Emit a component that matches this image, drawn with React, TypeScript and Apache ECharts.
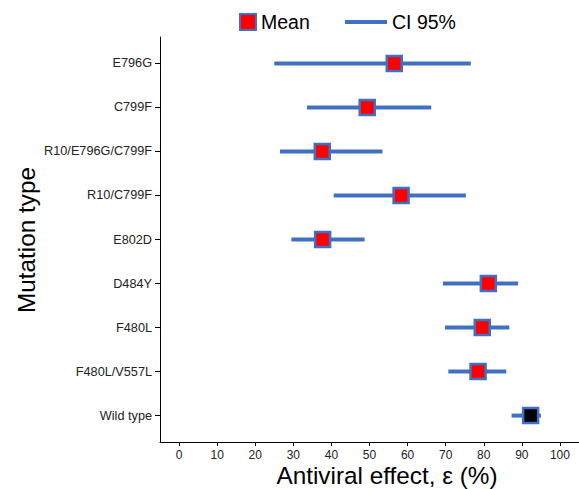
import React, { useEffect, useRef } from "react";
import * as echarts from "echarts";

const categories = [
  "E796G",
  "C799F",
  "R10/E796G/C799F",
  "R10/C799F",
  "E802D",
  "D484Y",
  "F480L",
  "F480L/V557L",
  "Wild type",
];
const meanValues = [56.5, 49.4, 37.6, 58.3, 37.7, 81.2, 79.6, 78.5, 92.3];
const ciLow = [25.0, 33.6, 26.5, 40.6, 29.5, 69.3, 69.8, 70.7, 87.3];
const ciHigh = [76.6, 66.2, 53.4, 75.3, 48.7, 89.0, 86.7, 85.9, 95.0];
const xTicks = [0, 10, 20, 30, 40, 50, 60, 70, 80, 90, 100];

const BLUE = "#4070C4";
const FONT = "Liberation Sans, Arial, Helvetica, sans-serif";

export default function App() {
  const ref = useRef<HTMLDivElement>(null);
  useEffect(() => {
    if (!ref.current) return;
    const chart = echarts.init(ref.current, null, { renderer: "svg" });
    const idx = categories.map((_, i) => i);
    chart.setOption({
      animation: false,
      textStyle: { fontFamily: FONT },
      legend: [
        {
          left: 239,
          top: 12,
          padding: 0,
          itemWidth: 16,
          itemHeight: 16,
          textStyle: { fontSize: 19.5, color: "#000", fontFamily: FONT },
          data: [
            {
              name: "Mean",
              icon: "rect",
              itemStyle: { color: "#FF0000", borderColor: BLUE, borderWidth: 2 },
            },
          ],
        },
        {
          left: 345,
          top: 12,
          padding: 0,
          itemWidth: 42,
          itemHeight: 16,
          textStyle: { fontSize: 19.5, color: "#000", fontFamily: FONT },
          data: [
            {
              name: "CI 95%",
              icon: "path://M0,0H42V4H0Z",
              itemStyle: { color: BLUE, borderWidth: 0 },
            },
          ],
        },
      ],
      grid: { left: 160, top: 37, bottom: 47, width: 423, containLabel: false },
      xAxis: {
        type: "value",
        min: -5,
        max: 105,
        splitLine: { show: false },
        axisLine: { show: true, onZero: false, lineStyle: { color: "#000", width: 1 } },
        axisTick: { show: true, length: 4, lineStyle: { color: "#000" }, customValues: xTicks },
        axisLabel: {
          color: "#222",
          fontSize: 12,
          margin: 7,
          fontFamily: FONT,
          customValues: xTicks,
        },
      },
      yAxis: {
        type: "value",
        inverse: true,
        min: -0.6,
        max: 8.6,
        splitLine: { show: false },
        axisLine: { show: true, onZero: false, lineStyle: { color: "#000", width: 1 } },
        axisTick: { show: true, length: 5, lineStyle: { color: "#000" }, customValues: idx },
        axisLabel: {
          color: "#222",
          fontSize: 12.7,
          margin: 8,
          fontFamily: FONT,
          customValues: idx,
          formatter: (v: number) => categories[Math.round(v)] ?? "",
        },
      },
      series: [
        {
          name: "CI 95%",
          type: "custom",
          z: 1,
          itemStyle: { color: BLUE },
          encode: { x: [0, 1], y: 2 },
          data: idx.map((i) => [ciLow[i], ciHigh[i], i]),
          renderItem: (params: any, api: any) => {
            const p1 = api.coord([api.value(0), api.value(2)]);
            const p2 = api.coord([api.value(1), api.value(2)]);
            return {
              type: "line",
              shape: { x1: p1[0], y1: p1[1], x2: p2[0], y2: p2[1] },
              style: { stroke: BLUE, lineWidth: 4 },
            };
          },
        },
        {
          name: "Mean",
          type: "scatter",
          z: 3,
          symbol: "rect",
          symbolSize: 15,
          itemStyle: { color: "#FF0000", borderColor: BLUE, borderWidth: 2.5, opacity: 1 },
          data: idx.map((i) => ({
            value: [meanValues[i], i],
            itemStyle: { color: categories[i] === "Wild type" ? "#000000" : "#FF0000" },
          })),
        },
      ],
      graphic: [
        {
          type: "text",
          x: 387,
          y: 475,
          style: {
            text: "Antiviral effect, ε (%)",
            font: `24.3px ${FONT}`,
            fill: "#000",
            align: "center",
            verticalAlign: "middle",
          },
        },
        {
          type: "text",
          x: 26,
          y: 240,
          rotation: Math.PI / 2,
          style: {
            text: "Mutation type",
            font: `24.3px ${FONT}`,
            fill: "#000",
            align: "center",
            verticalAlign: "middle",
          },
        },
      ],
    });
    return () => chart.dispose();
  }, []);
  return <div ref={ref} style={{ width: 579, height: 489, position: "absolute", left: 0, top: 0 }} />;
}
